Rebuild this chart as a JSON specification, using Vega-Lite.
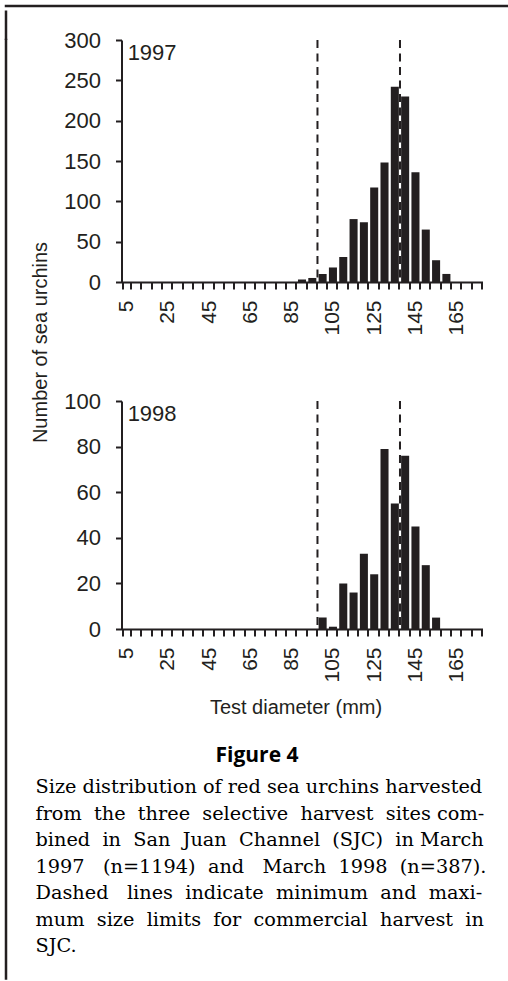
{
  "$schema": "https://vega.github.io/schema/vega-lite/v6.json",
  "padding": {"left": 3, "top": 4, "right": 0, "bottom": 0},
  "background": "white",
  "config": {
    "font": "Liberation Sans",
    "view": {"stroke": null},
    "axis": {
      "labelFont": "Liberation Sans", "titleFont": "Liberation Sans",
      "labelColor": "#231f20", "titleColor": "#231f20",
      "domainColor": "#231f20", "tickColor": "#231f20",
      "domainWidth": 2, "tickWidth": 2, "tickSize": 6, "grid": false,
      "labelFontSize": 22, "titleFontSize": 20, "titleFontWeight": "normal"
    }
  },
  "datasets": {
    "y1997": [
      {"size": 90, "count": 3}, {"size": 95, "count": 5}, {"size": 100, "count": 10},
      {"size": 105, "count": 18}, {"size": 110, "count": 31}, {"size": 115, "count": 78},
      {"size": 120, "count": 74}, {"size": 125, "count": 117}, {"size": 130, "count": 148},
      {"size": 135, "count": 242}, {"size": 140, "count": 230}, {"size": 145, "count": 136},
      {"size": 150, "count": 65}, {"size": 155, "count": 27}, {"size": 160, "count": 10}
    ],
    "y1998": [
      {"size": 100, "count": 5}, {"size": 105, "count": 1}, {"size": 110, "count": 20},
      {"size": 115, "count": 16}, {"size": 120, "count": 33}, {"size": 125, "count": 24},
      {"size": 130, "count": 79}, {"size": 135, "count": 55}, {"size": 140, "count": 76},
      {"size": 145, "count": 45}, {"size": 150, "count": 28}, {"size": 155, "count": 5}
    ],
    "limits": [{"limit": 100}, {"limit": 140}]
  },
  "spacing": 0,
  "vconcat": [
    {
      "width": 502, "height": 0.01,
      "view": {"stroke": "#231f20", "strokeWidth": 2.5},
      "data": {"values": []},
      "mark": "point",
      "encoding": {}
    },
    {
      "spacing": 21.5,
      "hconcat": [
        {
          "width": 0.01, "height": 938.5,
          "view": {"stroke": "#231f20", "strokeWidth": 2.5},
          "data": {"values": []},
          "mark": "point",
          "encoding": {
            "x": {
              "field": "v", "type": "quantitative", "scale": {"domain": [0, 1]},
              "axis": {"orient": "top", "values": [0], "tickSize": 29.5, "tickWidth": 2.5, "domain": false, "labels": false, "title": null, "grid": false, "translate": 0}
            }
          }
        },
        {
          "spacing": 12,
          "title": {
            "text": [
              "Size distribution of red sea urchins harvested",
              "from \u00a0the \u00a0three \u00a0selective \u00a0harvest \u00a0sites com-",
              "bined \u00a0in \u00a0San \u00a0Juan \u00a0Channel \u00a0(SJC) \u00a0in March",
              "1997 \u00a0\u00a0(n=1194) \u00a0and \u00a0\u00a0March \u00a01998 \u00a0(n=387).",
              "Dashed \u00a0\u00a0lines \u00a0indicate \u00a0minimum \u00a0and \u00a0maxi-",
              "mum \u00a0size \u00a0limits \u00a0for \u00a0commercial \u00a0harvest \u00a0in",
              "SJC."
            ],
            "orient": "bottom", "anchor": "start", "frame": "bounds",
            "font": "DejaVu Serif", "fontSize": 19.3, "fontWeight": "normal",
            "lineHeight": 26.5, "offset": 12, "dx": 5, "color": "#000000"
          },
          "hconcat": [
            {
              "width": 0.01, "height": 604,
              "data": {"values": []},
              "mark": "point",
              "encoding": {
                "y": {
                  "field": "v", "type": "quantitative", "scale": {"domain": [0, 1]},
                  "axis": {"title": "Number of sea urchins", "domain": false, "ticks": false, "labels": false, "grid": false, "titlePadding": 0}
                }
              }
            },
            {
              "spacing": 54,
              "vconcat": [
                {
                  "width": 361, "height": 242,
                  "layer": [
                    {
                      "data": {"name": "y1997"},
                      "mark": {"type": "bar", "color": "#231f20"},
                      "encoding": {
                        "x": {
                          "field": "size", "type": "ordinal",
                          "scale": {"domain": [5,10,15,20,25,30,35,40,45,50,55,60,65,70,75,80,85,90,95,100,105,110,115,120,125,130,135,140,145,150,155,160,165,170,175], "paddingInner": 0.22, "paddingOuter": 0.11},
                          "axis": {"labelAngle": -90, "labelFontSize": 21, "labelExpr": "(datum.value - 5) % 20 === 0 ? datum.label : ''", "tickBand": "extent", "title": null, "labelPadding": 11, "tickSize": 7}
                        },
                        "y": {
                          "field": "count", "type": "quantitative",
                          "scale": {"domain": [0, 300], "nice": false},
                          "axis": {"values": [0,50,100,150,200,250,300], "title": null, "labelPadding": 15}
                        }
                      }
                    },
                    {
                      "data": {"name": "limits"},
                      "mark": {"type": "rule", "strokeDash": [8, 5.5], "strokeWidth": 2, "color": "#231f20"},
                      "encoding": {"x": {"field": "limit", "type": "ordinal", "bandPosition": -0.141}}
                    },
                    {
                      "data": {"values": [{"year": "1997"}]},
                      "mark": {"type": "text", "align": "left", "baseline": "top", "fontSize": 22, "dx": 5, "dy": 3, "color": "#231f20"},
                      "encoding": {
                        "x": {"datum": 5, "type": "ordinal", "bandPosition": 0},
                        "y": {"datum": 300, "type": "quantitative"},
                        "text": {"field": "year"}
                      }
                    }
                  ]
                },
                {
                  "width": 361, "height": 228,
                  "title": {"text": "Figure 4", "orient": "bottom", "anchor": "middle", "frame": "group", "font": "Open Sans", "fontWeight": "bold", "fontSize": 21, "offset": 28, "dx": -45, "color": "#000000"},
                  "layer": [
                    {
                      "data": {"name": "y1998"},
                      "mark": {"type": "bar", "color": "#231f20"},
                      "encoding": {
                        "x": {
                          "field": "size", "type": "ordinal",
                          "scale": {"domain": [5,10,15,20,25,30,35,40,45,50,55,60,65,70,75,80,85,90,95,100,105,110,115,120,125,130,135,140,145,150,155,160,165,170,175], "paddingInner": 0.22, "paddingOuter": 0.11},
                          "axis": {"labelAngle": -90, "labelFontSize": 21, "labelExpr": "(datum.value - 5) % 20 === 0 ? datum.label : ''", "tickBand": "extent", "title": "Test diameter (mm)", "titlePadding": 15, "titleX": 174, "labelPadding": 11, "tickSize": 7}
                        },
                        "y": {
                          "field": "count", "type": "quantitative",
                          "scale": {"domain": [0, 100], "nice": false},
                          "axis": {"values": [0,20,40,60,80,100], "title": null, "labelPadding": 15}
                        }
                      }
                    },
                    {
                      "data": {"name": "limits"},
                      "mark": {"type": "rule", "strokeDash": [8, 5.5], "strokeWidth": 2, "color": "#231f20"},
                      "encoding": {"x": {"field": "limit", "type": "ordinal", "bandPosition": -0.141}}
                    },
                    {
                      "data": {"values": [{"year": "1998"}]},
                      "mark": {"type": "text", "align": "left", "baseline": "top", "fontSize": 22, "dx": 5, "dy": 3, "color": "#231f20"},
                      "encoding": {
                        "x": {"datum": 5, "type": "ordinal", "bandPosition": 0},
                        "y": {"datum": 100, "type": "quantitative"},
                        "text": {"field": "year"}
                      }
                    }
                  ]
                }
              ]
            }
          ]
        }
      ]
    }
  ]
}
